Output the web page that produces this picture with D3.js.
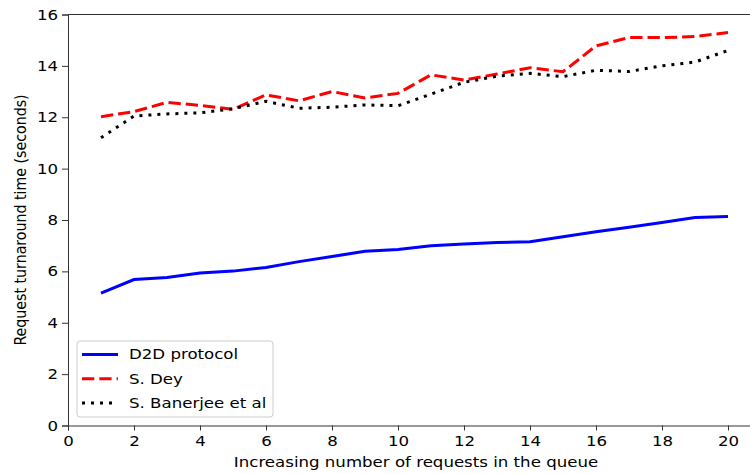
<!DOCTYPE html>
<html>
<head>
<meta charset="utf-8">
<script src="https://cdn.jsdelivr.net/npm/d3@7"></script>
<style>
  body { margin: 0; background: #fff; overflow: hidden; }
  svg text { font-family: "DejaVu Sans", sans-serif; fill: #000; }
</style>
</head>
<body>
<div id="chart"></div>
<script>
// data
const requests = d3.range(1, 21);
const d2d = [5.15, 5.68, 5.76, 5.94, 6.01, 6.15, 6.38, 6.58, 6.78, 6.85,
             7.0, 7.07, 7.12, 7.15, 7.35, 7.54, 7.72, 7.9, 8.1, 8.14];
const dey = [12.02, 12.22, 12.58, 12.46, 12.31, 12.87, 12.64, 13.0, 12.75, 12.93,
             13.65, 13.45, 13.68, 13.93, 13.77, 14.78, 15.1, 15.1, 15.14, 15.3];
const banerjee = [11.2, 12.05, 12.13, 12.17, 12.33, 12.62, 12.35, 12.39, 12.48, 12.45,
                  12.9, 13.36, 13.6, 13.71, 13.58, 13.83, 13.78, 14.0, 14.15, 14.6];
const xTicks = [0, 2, 4, 6, 8, 10, 12, 14, 16, 18, 20];
const yTicks = [0, 2, 4, 6, 8, 10, 12, 14, 16];

const series = [
  { name: 'D2D protocol', values: d2d, color: '#0000ff', dash: null },
  { name: 'S. Dey', values: dey, color: '#ff0000', dash: '12.3,5' },
  { name: 'S. Banerjee et al', values: banerjee, color: '#000000', dash: '3,6' }
];

const width = 750, height = 474;
const margin = { left: 68, top: 14.5, bottom: 48.5 };
const FONT = '14.2px';
const SX = 1.17; // the picture is a bit wider than tall, text looks stretched

// horizontal stretch of text, like the reference
function stretch(sel) {
  sel.each(function () {
    const w = this.getComputedTextLength();
    d3.select(this).attr('textLength', w * SX).attr('lengthAdjust', 'spacingAndGlyphs');
  });
}

const svg = d3.select('#chart').append('svg')
  .attr('width', width)
  .attr('height', height);

// x=20 sits at ~728px, the right spine is cut off by the picture edge
const x = d3.scaleLinear().domain([0, 20.95]).range([margin.left, margin.left + 20.95 * 33]);
const y = d3.scaleLinear().domain([0, 16]).range([height - margin.bottom, margin.top]);

const xAxis = svg.append('g')
  .attr('transform', `translate(0,${height - margin.bottom})`)
  .call(d3.axisBottom(x).tickValues(xTicks).tickSize(5).tickPadding(5).tickFormat(d3.format('d')));
const yAxis = svg.append('g')
  .attr('transform', `translate(${margin.left},0)`)
  .call(d3.axisLeft(y).tickValues(yTicks).tickSize(6).tickPadding(4).tickFormat(d3.format('d')));

[xAxis, yAxis].forEach(g => {
  g.selectAll('text').style('font-size', FONT).call(stretch);
  g.selectAll('line').attr('stroke', '#333');
  g.select('.domain').attr('stroke', '#333');
});

// top spine
svg.append('line')
  .attr('x1', margin.left).attr('x2', width)
  .attr('y1', y(16)).attr('y2', y(16))
  .attr('stroke', '#333');

const line = d3.line().x((d, i) => x(requests[i])).y(d => y(d));

svg.selectAll('path.series')
  .data(series)
  .join('path')
  .attr('class', 'series')
  .attr('d', d => line(d.values))
  .attr('fill', 'none')
  .attr('stroke', d => d.color)
  .attr('stroke-width', 3)
  .attr('stroke-dasharray', d => d.dash);

// axis labels
svg.append('text')
  .attr('x', 416).attr('y', 467)
  .attr('text-anchor', 'middle')
  .style('font-size', FONT)
  .text('Increasing number of requests in the queue')
  .call(stretch);

svg.append('text')
  .attr('transform', `translate(25.5,${(y(0) + y(16)) / 2}) scale(${SX},1) rotate(-90)`)
  .attr('text-anchor', 'middle')
  .style('font-size', FONT)
  .text('Request turnaround time (seconds)');

// legend
const legend = svg.append('g').attr('transform', 'translate(77,341)');
legend.append('rect')
  .attr('width', 196).attr('height', 76).attr('rx', 3)
  .attr('fill', '#fff').attr('fill-opacity', 0.8)
  .attr('stroke', '#ccc');

const items = legend.selectAll('g.item')
  .data(series)
  .join('g')
  .attr('class', 'item')
  .attr('transform', (d, i) => `translate(0,${13.5 + i * 24.2})`);

items.append('line')
  .attr('x1', 5).attr('x2', 41)
  .attr('stroke', d => d.color)
  .attr('stroke-width', 3)
  .attr('stroke-dasharray', d => d.dash);

items.append('text')
  .attr('x', 52).attr('dy', '0.35em')
  .style('font-size', FONT)
  .text(d => d.name)
  .call(stretch);
</script>
</body>
</html>
